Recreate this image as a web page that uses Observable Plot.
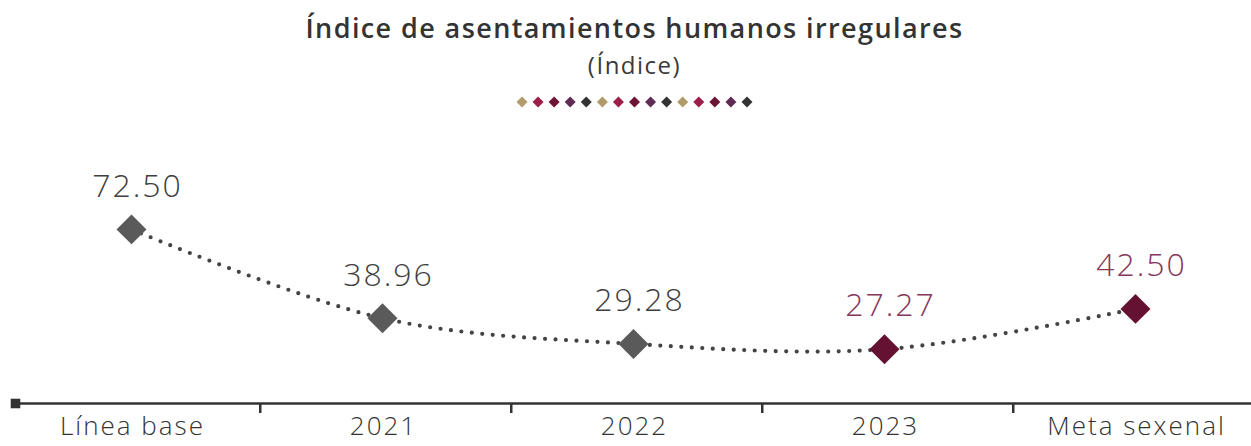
<!DOCTYPE html>
<html><head><meta charset="utf-8">
<script src="https://cdn.jsdelivr.net/npm/d3@7"></script>
<script src="https://cdn.jsdelivr.net/npm/@observablehq/plot@0.6"></script>
<style>
body{margin:0;background:#fff;font-family:"Open Sans","Noto Sans",sans-serif;}
#wrap{position:relative;width:1251px;height:446px;overflow:hidden;}
#title{position:absolute;left:0;width:1269px;top:9px;text-align:center;font-size:27px;font-weight:600;color:#333;letter-spacing:1.4px;}
#sub{position:absolute;left:0;width:1269px;top:48px;text-align:center;font-size:24px;font-weight:400;color:#3a3a3a;letter-spacing:1.5px;}
#deco{position:absolute;top:96px;left:0;height:12px;width:1251px;}
#chart{position:absolute;top:120px;left:0;}
#chart svg text{letter-spacing:2px;}
</style></head>
<body><div id="wrap">
<div id="title">Índice de asentamientos humanos irregulares</div>
<div id="sub">(Índice)</div>
<svg id="deco" width="1251" height="12"></svg>
<div id="chart"></div>
</div>
<script>
const categories = ["Línea base", "2021", "2022", "2023", "Meta sexenal"];
const values = [72.50, 38.96, 29.28, 27.27, 42.50];
const valueLabels = ["72.50", "38.96", "29.28", "27.27", "42.50"];
const status = ["histórico", "histórico", "histórico", "reciente", "meta"];
const decoColors = ["#b19b6b", "#9c1f4a", "#6b1434", "#5e2c55", "#333333"];

const markerColor = {"histórico": "#5a5a5a", "reciente": "#651232", "meta": "#651232"};
const textColor = {"histórico": "#3f3f3f", "reciente": "#86375a", "meta": "#86375a"};

const data = categories.map((c, i) => ({cat: c, v: values[i], label: valueLabels[i], s: status[i]}));

// decorative diamonds
const deco = d3.select("#deco");
d3.range(15).forEach(i => {
  const cx = 522 + i * 16.07, cy = 6, h = 5.5;
  deco.append("path").attr("d", `M${cx},${cy-h}L${cx+h},${cy}L${cx},${cy+h}L${cx-h},${cy}Z`).attr("fill", decoColors[i % 5]);
});

const W = 1251, H = 326;
const step = (1136 - 130) / (categories.length - 1);
const plot = Plot.plot({
  width: W, height: H,
  marginLeft: 15, marginRight: 0, marginTop: 20, marginBottom: 43,
  style: {fontFamily: "'Open Sans', 'Noto Sans', sans-serif", background: "#fff"},
  x: {type: "point", domain: categories, range: [130, 1136], padding: 0, axis: null},
  y: {domain: [0, 100], range: [301, 36], axis: null},
  marks: [
    Plot.frame({anchor: "bottom", stroke: "#333", strokeWidth: 2.5}),
    Plot.dot([0], {frameAnchor: "bottom-left", symbol: "square", r: 5.4, fill: "#333", dx: 0}),
    Plot.ruleX(categories.slice(0, -1), {x: d => d, dx: step / 2 + 3, insetTop: 263 - 10, dy: 10, stroke: "#333", strokeWidth: 2.5}),
    Plot.line(data, {x: "cat", y: "v", curve: "catmull-rom", stroke: "#444", strokeWidth: 4.2, strokeDasharray: "0,10.5", strokeLinecap: "round"}),
    Plot.dot(data, {x: "cat", y: "v", symbol: "diamond2", r: 13.5, fill: d => markerColor[d.s]}),
    Plot.text(data, {x: "cat", y: "v", text: "label", dy: -43, dx: 6, fontSize: 32, fontWeight: 300, fill: d => textColor[d.s]}),
    Plot.text(categories, {x: d => d, frameAnchor: "bottom", dy: 31, dx: 1, fontSize: 26, fontWeight: 300, fill: "#333"})
  ]
});
document.getElementById("chart").appendChild(plot);
</script>
</body></html>
